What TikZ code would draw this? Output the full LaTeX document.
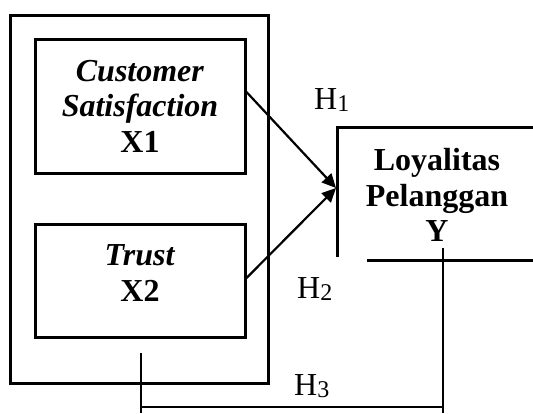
\documentclass[tikz,border=0pt]{standalone}
\usepackage{fontspec}
\setmainfont{Liberation Serif}
\usetikzlibrary{arrows.meta}
\tikzset{
  boxline/.style={draw=black, line width=3pt},
  conn/.style={draw=black, line width=2.2pt},
  tiparrow/.style={conn, -{Triangle[length=14pt,width=13pt]}},
  vartext/.style={align=center, inner sep=0pt, font=\fontsize{32}{35.5}\selectfont},
  hlabel/.style={inner sep=0pt, font=\fontsize{32}{36}\selectfont},
}
\newcommand{\hsub}[1]{\raisebox{-2pt}{\fontsize{24}{24}\selectfont #1}}
\begin{document}
\begin{tikzpicture}[x=1pt,y=-1pt]
\useasboundingbox (0,0) rectangle (533,413);
% outer frame
\node[boxline, minimum width=258pt, minimum height=368pt, inner sep=0pt] (outer) at (139,199) {};
% X1 box
\node[boxline, minimum width=210pt, minimum height=134pt, inner sep=0pt] (x1) at (140,106) {};
\node[vartext] (x1t) at (140,106) {\textbf{\textit{Customer}}\\\textbf{\textit{Satisfaction}}\\\textbf{X1}};
% X2 box
\node[boxline, minimum width=210pt, minimum height=113pt, inner sep=0pt] (x2) at (140,280.5) {};
\node[vartext] (x2t) at (140,273) {\textbf{\textit{Trust}}\\\textbf{X2}};
% Y partial box
\coordinate (ytl) at (337,127);
\coordinate (ytr) at (533,127);
\coordinate (ybl) at (337,257);
\coordinate (ybs) at (367,260);
\coordinate (ybr) at (533,260);
\draw[boxline] (ytr) -- (ytl) -- (ybl);
\draw[boxline] (ybs) -- (ybr);
\node[vartext] (yt) at (437,195) {\textbf{Loyalitas}\\\textbf{Pelanggan}\\\textbf{Y}};
% connectors
\coordinate (tip) at (336,188);
\draw[tiparrow] (x1.east |- 0,92) -- (tip);
\draw[tiparrow] (x2.east |- 0,278) -- (tip);
% H3 connector
\coordinate (h3a) at (141,353);
\coordinate (h3b) at (141,413);
\coordinate (h3c) at (443,248);
\coordinate (h3d) at (443,413);
\draw[conn] (h3a) -- (h3b);
\draw[conn] (h3c) -- (h3d);
\draw[conn] (h3a |- 0,407) -- (h3c |- 0,407);
% labels
\node[hlabel, anchor=base west] (h1) at (314,109) {H\hsub{1}};
\node[hlabel, anchor=base west] (h2) at (297,298) {H\hsub{2}};
\node[hlabel, anchor=base west] (h3) at (294,395) {H\hsub{3}};
\end{tikzpicture}
\end{document}
